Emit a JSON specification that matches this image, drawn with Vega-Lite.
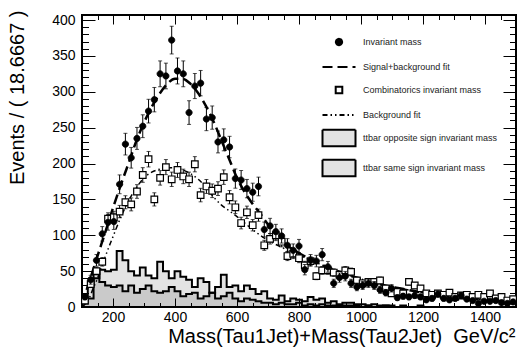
{
"$schema": "https://vega.github.io/schema/vega-lite/v6.json",
"width": 434, "height": 292,
"autosize": {"type": "none"},
"padding": {"left": 82, "top": 15, "right": 1, "bottom": 43},
"background": "white",
"config": {
  "view": {"stroke": "black", "strokeWidth": 2},
  "font": "Liberation Sans",
  "axis": {"domain": false, "grid": false, "tickColor": "black", "tickWidth": 1, "labelFont": "Liberation Sans", "labelFontSize": 14, "labelColor": "black", "labelOverlap": false, "labelFlush": false, "format": "d", "titleFont": "Liberation Sans", "titleFontSize": 20, "titleFontWeight": "normal", "titleColor": "black"},
  "legend": {"orient": "none", "legendX": 239.5, "legendY": 9.5, "labelFont": "Liberation Sans", "labelFontSize": 9, "labelColor": "#222", "symbolSize": 1089, "symbolStrokeWidth": 2, "symbolStrokeColor": "black", "rowPadding": -11, "labelOffset": 6.5, "padding": 0}
},
"datasets": {
  "inv": [
    {"x":109.33,"y":14,"e":3.7},{"x":128,"y":38,"e":6.2},{"x":146.67,"y":65,"e":8.1},{"x":165.33,"y":102,"e":10.1},{"x":184,"y":118,"e":10.9},
    {"x":202.67,"y":119,"e":10.9},{"x":221.33,"y":171,"e":13.1},{"x":240,"y":227,"e":15.1},{"x":258.67,"y":208,"e":14.4},{"x":277.33,"y":235,"e":15.3},
    {"x":296,"y":252,"e":15.9},{"x":314.67,"y":273,"e":16.5},{"x":333.33,"y":289,"e":17},{"x":352,"y":325,"e":18},{"x":370.67,"y":322,"e":17.9},
    {"x":389.33,"y":372,"e":19.3},{"x":408,"y":329,"e":18.1},{"x":426.67,"y":325,"e":18},{"x":445.33,"y":271,"e":16.5},{"x":464,"y":308,"e":17.5},
    {"x":482.67,"y":312,"e":17.7},{"x":501.33,"y":262,"e":16.2},{"x":520,"y":264,"e":16.2},{"x":538.67,"y":230,"e":15.2},{"x":557.33,"y":233,"e":15.3},
    {"x":576,"y":223,"e":14.9},{"x":594.67,"y":179,"e":13.4},{"x":613.33,"y":177,"e":13.3},{"x":632,"y":165,"e":12.8},{"x":650.67,"y":160,"e":12.6},
    {"x":669.33,"y":168,"e":13},{"x":688,"y":108,"e":10.4},{"x":706.67,"y":113,"e":10.6},{"x":725.33,"y":105,"e":10.2},{"x":744,"y":99,"e":9.9},
    {"x":762.67,"y":86,"e":9.3},{"x":781.33,"y":79,"e":8.9},{"x":800,"y":85,"e":9.2},{"x":818.67,"y":52,"e":7.2},{"x":837.33,"y":65,"e":8.1},
    {"x":856,"y":64,"e":8},{"x":874.67,"y":73,"e":8.5},{"x":893.33,"y":56,"e":7.5},{"x":912,"y":33,"e":5.7},{"x":930.67,"y":41,"e":6.4},
    {"x":949.33,"y":43,"e":6.6},{"x":968,"y":33,"e":5.7},{"x":986.67,"y":28,"e":5.3},{"x":1005.33,"y":30,"e":5.5},{"x":1024,"y":33,"e":5.7},
    {"x":1042.67,"y":30,"e":5.5},{"x":1061.33,"y":24,"e":4.9},{"x":1080,"y":20,"e":4.5},{"x":1098.67,"y":26,"e":5.1},{"x":1117.33,"y":13,"e":3.6},
    {"x":1136,"y":15,"e":3.9},{"x":1154.67,"y":14,"e":3.7},{"x":1173.33,"y":16,"e":4},{"x":1192,"y":14,"e":3.7},{"x":1210.67,"y":10,"e":3.2},
    {"x":1229.33,"y":12,"e":3.5},{"x":1248,"y":18,"e":4.2},{"x":1266.67,"y":12,"e":3.5},{"x":1285.33,"y":10,"e":3.2},{"x":1304,"y":12,"e":3.5},
    {"x":1322.67,"y":16,"e":4},{"x":1341.33,"y":11,"e":3.3},{"x":1360,"y":9,"e":3},{"x":1378.67,"y":5,"e":2.2},{"x":1397.33,"y":8,"e":2.8},
    {"x":1416,"y":8,"e":2.8},{"x":1434.67,"y":9,"e":3},{"x":1453.33,"y":6,"e":2.4},{"x":1472,"y":5,"e":2.2},{"x":1490.67,"y":7,"e":2.6}
  ],
  "comb": [
    {"x":109.33,"y":9,"e":2.3},{"x":128,"y":32,"e":4.2},{"x":146.67,"y":50,"e":5.3},{"x":165.33,"y":63,"e":6},{"x":184,"y":123,"e":8.3},
    {"x":202.67,"y":125,"e":8.4},{"x":221.33,"y":133,"e":8.6},{"x":240,"y":146,"e":9.1},{"x":258.67,"y":143,"e":9},{"x":277.33,"y":161,"e":9.5},
    {"x":296,"y":184,"e":10.2},{"x":314.67,"y":206,"e":10.8},{"x":333.33,"y":150,"e":9.2},{"x":352,"y":180,"e":10.1},{"x":370.67,"y":195,"e":10.5},
    {"x":389.33,"y":178,"e":10},{"x":408,"y":191,"e":10.4},{"x":426.67,"y":182,"e":10.1},{"x":445.33,"y":178,"e":10},{"x":464,"y":199,"e":10.6},
    {"x":482.67,"y":156,"e":9.4},{"x":501.33,"y":168,"e":9.7},{"x":520,"y":162,"e":9.5},{"x":538.67,"y":165,"e":9.6},{"x":557.33,"y":181,"e":10.1},
    {"x":576,"y":153,"e":9.3},{"x":594.67,"y":139,"e":8.8},{"x":613.33,"y":117,"e":8.1},{"x":632,"y":132,"e":8.6},{"x":650.67,"y":114,"e":8},
    {"x":669.33,"y":128,"e":8.5},{"x":688,"y":86,"e":7},{"x":706.67,"y":95,"e":7.3},{"x":725.33,"y":100,"e":7.5},{"x":744,"y":91,"e":7.2},
    {"x":762.67,"y":71,"e":6.3},{"x":781.33,"y":74,"e":6.5},{"x":800,"y":68,"e":6.2},{"x":818.67,"y":58,"e":5.7},{"x":837.33,"y":64,"e":6},
    {"x":856,"y":43,"e":4.9},{"x":874.67,"y":51,"e":5.4},{"x":893.33,"y":51,"e":5.4},{"x":912,"y":48,"e":5.2},{"x":930.67,"y":45,"e":5},
    {"x":949.33,"y":51,"e":5.4},{"x":968,"y":49,"e":5.3},{"x":986.67,"y":37,"e":4.6},{"x":1005.33,"y":33,"e":4.3},{"x":1024,"y":35,"e":4.4},
    {"x":1042.67,"y":35,"e":4.4},{"x":1061.33,"y":37,"e":4.6},{"x":1080,"y":26,"e":3.8},{"x":1098.67,"y":19,"e":3.3},{"x":1117.33,"y":21,"e":3.4},
    {"x":1136,"y":19,"e":3.3},{"x":1154.67,"y":35,"e":4.4},{"x":1173.33,"y":30,"e":4.1},{"x":1192,"y":26,"e":3.8},{"x":1210.67,"y":19,"e":3.3},
    {"x":1229.33,"y":17,"e":3.1},{"x":1248,"y":19,"e":3.3},{"x":1266.67,"y":17,"e":3.1},{"x":1285.33,"y":20,"e":3.4},{"x":1304,"y":14,"e":2.8},
    {"x":1322.67,"y":16,"e":3},{"x":1341.33,"y":17,"e":3.1},{"x":1360,"y":14,"e":2.8},{"x":1378.67,"y":17,"e":3.1},{"x":1397.33,"y":14,"e":2.8},
    {"x":1416,"y":19,"e":3.3},{"x":1434.67,"y":12,"e":2.6},{"x":1453.33,"y":14,"e":2.8},{"x":1472,"y":9,"e":2.3},{"x":1490.67,"y":11,"e":2.5}
  ],
  "hist": [
    {"x":100,"o":12,"s":5},{"x":118.67,"o":12,"s":30},{"x":137.33,"o":40,"s":50},{"x":156,"o":52,"s":35},{"x":174.67,"o":50,"s":30},
    {"x":193.33,"o":52,"s":28},{"x":212,"o":78,"s":30},{"x":230.67,"o":65,"s":22},{"x":249.33,"o":50,"s":30},{"x":268,"o":44,"s":20},
    {"x":286.67,"o":55,"s":25},{"x":305.33,"o":44,"s":30},{"x":324,"o":40,"s":22},{"x":342.67,"o":63,"s":20},{"x":361.33,"o":50,"s":22},
    {"x":380,"o":40,"s":28},{"x":398.67,"o":50,"s":22},{"x":417.33,"o":42,"s":15},{"x":436,"o":38,"s":18},{"x":454.67,"o":28,"s":20},
    {"x":473.33,"o":40,"s":12},{"x":492,"o":35,"s":15},{"x":510.67,"o":20,"s":20},{"x":529.33,"o":28,"s":12},{"x":548,"o":45,"s":15},
    {"x":566.67,"o":28,"s":20},{"x":585.33,"o":30,"s":12},{"x":604,"o":22,"s":8},{"x":622.67,"o":30,"s":12},{"x":641.33,"o":25,"s":10},
    {"x":660,"o":18,"s":8},{"x":678.67,"o":22,"s":6},{"x":697.33,"o":12,"s":6},{"x":716,"o":10,"s":4},{"x":734.67,"o":16,"s":6},
    {"x":753.33,"o":8,"s":4},{"x":772,"o":12,"s":4},{"x":790.67,"o":10,"s":6},{"x":809.33,"o":8,"s":2},{"x":828,"o":14,"s":4},
    {"x":846.67,"o":10,"s":2},{"x":865.33,"o":12,"s":4},{"x":884,"o":6,"s":2},{"x":902.67,"o":8,"s":2},{"x":921.33,"o":4,"s":2},
    {"x":940,"o":6,"s":2},{"x":958.67,"o":6,"s":2},{"x":977.33,"o":4,"s":2},{"x":996,"o":4,"s":0},{"x":1014.67,"o":2,"s":2},
    {"x":1033.33,"o":4,"s":0},{"x":1052,"o":2,"s":0},{"x":1070.67,"o":2,"s":2},{"x":1089.33,"o":2,"s":0},{"x":1108,"o":0,"s":0},
    {"x":1126.67,"o":2,"s":0},{"x":1145.33,"o":0,"s":0},{"x":1164,"o":0,"s":0},{"x":1182.67,"o":2,"s":0},{"x":1201.33,"o":0,"s":0},
    {"x":1220,"o":0,"s":0},{"x":1238.67,"o":0,"s":0},{"x":1257.33,"o":0,"s":0},{"x":1276,"o":0,"s":0},{"x":1294.67,"o":0,"s":0},
    {"x":1313.33,"o":0,"s":0},{"x":1332,"o":0,"s":0},{"x":1350.67,"o":0,"s":0},{"x":1369.33,"o":0,"s":0},{"x":1388,"o":0,"s":0},
    {"x":1406.67,"o":0,"s":0},{"x":1425.33,"o":0,"s":0},{"x":1444,"o":0,"s":0},{"x":1462.67,"o":0,"s":0},{"x":1481.33,"o":0,"s":0},
    {"x":1500,"o":0,"s":0}
  ],
  "bkg": [
    {"x":100,"y":0},{"x":112,"y":5},{"x":125,"y":14},{"x":137,"y":27},{"x":150,"y":40},{"x":162,"y":55},{"x":175,"y":70},{"x":187,"y":84},
    {"x":200,"y":98},{"x":225,"y":125},{"x":250,"y":148},{"x":275,"y":166},{"x":300,"y":180},{"x":325,"y":188},{"x":350,"y":192},{"x":375,"y":194},
    {"x":400,"y":194},{"x":425,"y":191},{"x":450,"y":186},{"x":475,"y":178},{"x":500,"y":167},{"x":525,"y":153},{"x":550,"y":142},{"x":575,"y":134},
    {"x":600,"y":126},{"x":625,"y":117},{"x":650,"y":108},{"x":675,"y":100},{"x":700,"y":93},{"x":750,"y":82},{"x":800,"y":72},{"x":850,"y":63},
    {"x":900,"y":54},{"x":950,"y":46},{"x":1000,"y":39},{"x":1050,"y":33},{"x":1100,"y":28},{"x":1150,"y":24},{"x":1200,"y":20},{"x":1250,"y":17},
    {"x":1300,"y":14},{"x":1350,"y":12},{"x":1400,"y":10},{"x":1450,"y":8},{"x":1500,"y":7}
  ],
  "sig": [
    {"x":100,"y":4},{"x":125,"y":37},{"x":150,"y":71},{"x":175,"y":104},{"x":200,"y":138},{"x":225,"y":170},{"x":250,"y":200},{"x":275,"y":231},
    {"x":300,"y":257},{"x":325,"y":279},{"x":350,"y":297},{"x":375,"y":311},{"x":400,"y":318},{"x":425,"y":318},{"x":450,"y":311},{"x":475,"y":298},
    {"x":500,"y":280},{"x":525,"y":258},{"x":550,"y":232},{"x":575,"y":206},{"x":600,"y":180},{"x":625,"y":160},{"x":650,"y":144},{"x":675,"y":130},
    {"x":700,"y":115},{"x":725,"y":101},{"x":750,"y":90},{"x":800,"y":75},{"x":850,"y":64},{"x":900,"y":54},{"x":950,"y":46},{"x":1000,"y":39},
    {"x":1050,"y":33},{"x":1100,"y":28},{"x":1150,"y":24},{"x":1200,"y":20},{"x":1250,"y":17},{"x":1300,"y":14},{"x":1350,"y":12},{"x":1400,"y":10},
    {"x":1450,"y":8},{"x":1500,"y":7}
  ]
},
"layer": [
  {
    "data": {"name": "hist"},
    "mark": {"type": "area", "interpolate": "step-after", "stroke": "black", "strokeWidth": 2},
    "encoding": {
      "x": {"field": "x", "type": "quantitative", "scale": {"domain": [100, 1500], "nice": false, "zero": false},
            "axis": {"orient": "bottom", "values": [200, 400, 600, 800, 1000, 1200, 1400], "tickSize": -9, "labelPadding": 12,
                     "title": "Mass(Tau1Jet)+Mass(Tau2Jet)\u00a0\u00a0GeV/c²", "titleAnchor": "end", "titleAlign": "right", "titleBaseline": "alphabetic", "titleX": 433, "titleY": 35}},
      "y": {"field": "s", "type": "quantitative", "scale": {"domain": [0, 407], "nice": false},
            "axis": {"orient": "left", "values": [0, 50, 100, 150, 200, 250, 300, 350, 400], "tickSize": -13, "labelPadding": 20,
                     "title": "Events / ( 18.6667 )", "titleAnchor": "end", "titleAngle": -90, "titleAlign": "right", "titleBaseline": "alphabetic", "titleX": -59, "titleY": -5}},
      "fill": {"datum": "ttbar same sign invariant mass", "type": "nominal",
               "scale": {"domain": ["Invariant mass", "Signal+background fit", "Combinatorics invariant mass", "Background fit", "ttbar opposite sign invariant mass", "ttbar same sign invariant mass"],
                         "range": ["black", "transparent", "white", "transparent", "rgba(0,0,0,0.11)", "rgba(0,0,0,0.11)"]},
               "legend": {"title": null, "orient": "none", "legendX": 239.5, "legendY": 9.5}}
    }
  },
  {
    "data": {"name": "hist"},
    "mark": {"type": "area", "interpolate": "step-after", "stroke": "black", "strokeWidth": 2},
    "encoding": {
      "x": {"field": "x", "type": "quantitative",
            "axis": {"orient": "bottom", "values": [150,200,250,300,350,400,450,500,550,600,650,700,750,800,850,900,950,1000,1050,1100,1150,1200,1250,1300,1350,1400,1450], "tickSize": -4.5, "labels": false, "title": null}},
      "y": {"field": "o", "type": "quantitative",
            "axis": {"orient": "left", "values": [10,20,30,40,60,70,80,90,110,120,130,140,160,170,180,190,210,220,230,240,260,270,280,290,310,320,330,340,360,370,380,390], "tickSize": -6.5, "labels": false, "title": null}},
      "fill": {"datum": "ttbar opposite sign invariant mass", "type": "nominal", "legend": {"title": null}}
    }
  },
  {
    "data": {"name": "bkg"},
    "mark": {"type": "line", "interpolate": "monotone", "color": "black", "strokeWidth": 1.5},
    "encoding": {
      "x": {"field": "x", "type": "quantitative",
            "axis": {"orient": "top", "values": [200, 400, 600, 800, 1000, 1200, 1400], "tickSize": -9, "labels": false, "title": null}},
      "y": {"field": "y", "type": "quantitative",
            "axis": {"orient": "right", "values": [50, 100, 150, 200, 250, 300, 350, 400], "tickSize": -13, "labels": false, "title": null}},
      "strokeDash": {"datum": "Background fit", "type": "nominal",
               "scale": {"domain": ["Invariant mass", "Signal+background fit", "Combinatorics invariant mass", "Background fit", "ttbar opposite sign invariant mass", "ttbar same sign invariant mass"],
                         "range": [[1, 0], [10, 5], [1, 0], [5, 3, 1.5, 3, 1.5, 3], [1, 0], [1, 0]]},
               "legend": {"title": null}}
    }
  },
  {
    "data": {"name": "sig"},
    "mark": {"type": "line", "interpolate": "monotone", "color": "black", "strokeWidth": 2.5},
    "encoding": {
      "x": {"field": "x", "type": "quantitative",
            "axis": {"orient": "top", "values": [150,200,250,300,350,400,450,500,550,600,650,700,750,800,850,900,950,1000,1050,1100,1150,1200,1250,1300,1350,1400,1450], "tickSize": -4.5, "labels": false, "title": null}},
      "y": {"field": "y", "type": "quantitative",
            "axis": {"orient": "right", "values": [10,20,30,40,60,70,80,90,110,120,130,140,160,170,180,190,210,220,230,240,260,270,280,290,310,320,330,340,360,370,380,390], "tickSize": -6.5, "labels": false, "title": null}},
      "strokeDash": {"datum": "Signal+background fit", "type": "nominal", "legend": {"title": null}}
    }
  },
  {
    "data": {"name": "comb"},
    "mark": {"type": "errorbar", "ticks": true, "size": 4, "thickness": 1, "color": "black"},
    "encoding": {
      "x": {"field": "x", "type": "quantitative", "axis": null},
      "y": {"field": "y", "type": "quantitative", "axis": null},
      "yError": {"field": "e"}
    }
  },
  {
    "data": {"name": "comb"},
    "mark": {"type": "point", "filled": true, "stroke": "black", "strokeWidth": 1.2, "size": 1089, "opacity": 1},
    "encoding": {
      "x": {"field": "x", "type": "quantitative", "axis": null},
      "y": {"field": "y", "type": "quantitative", "axis": null},
      "fill": {"datum": "Combinatorics invariant mass", "type": "nominal", "legend": {"title": null}},
      "shape": {"datum": "Combinatorics invariant mass", "type": "nominal",
                "scale": {"domain": ["Invariant mass", "Signal+background fit", "Combinatorics invariant mass", "Background fit", "ttbar opposite sign invariant mass", "ttbar same sign invariant mass"],
                          "range": ["M-0.19,0A0.19,0.19 0 1,0 0.19,0A0.19,0.19 0 1,0 -0.19,0Z", "M-1,0H1", "M-0.2,-0.2H0.2V0.2H-0.2Z", "M-1,0H1", "M-1,-0.5H1V0.5H-1Z", "M-1,-0.5H1V0.5H-1Z"]},
                "legend": {"title": null}}
    }
  },
  {
    "data": {"name": "inv"},
    "mark": {"type": "errorbar", "ticks": true, "size": 4, "thickness": 1, "color": "black"},
    "encoding": {
      "x": {"field": "x", "type": "quantitative", "axis": null},
      "y": {"field": "y", "type": "quantitative", "axis": null},
      "yError": {"field": "e"}
    }
  },
  {
    "data": {"name": "inv"},
    "mark": {"type": "point", "filled": true, "stroke": "black", "strokeWidth": 0.8, "size": 1089, "opacity": 1},
    "encoding": {
      "x": {"field": "x", "type": "quantitative", "axis": null},
      "y": {"field": "y", "type": "quantitative", "axis": null},
      "fill": {"datum": "Invariant mass", "type": "nominal", "legend": {"title": null}},
      "shape": {"datum": "Invariant mass", "type": "nominal", "legend": {"title": null}}
    }
  }
],
"resolve": {"axis": {"x": "independent", "y": "independent"}}
}
